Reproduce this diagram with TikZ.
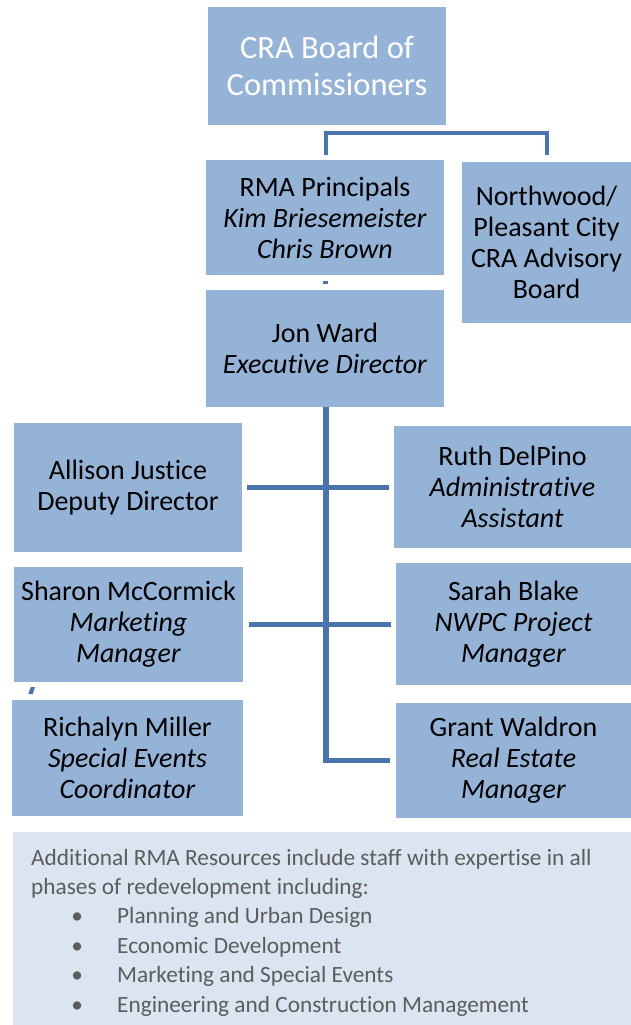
\documentclass[tikz,border=0pt]{standalone}
\usepackage{fontspec}
\setmainfont[Ligatures=NoCommon]{Carlito}
\usetikzlibrary{calc}
\definecolor{boxfill}{HTML}{95B3D7}
\definecolor{linec}{HTML}{4A74AC}
\definecolor{resfill}{HTML}{DBE5F1}
\definecolor{restext}{HTML}{5C5C5C}
\tikzset{
  orgbox/.style={draw=none, fill=boxfill, inner sep=0pt, align=center,
    font=\fontsize{28}{31}\selectfont, text=black},
  topbox/.style={orgbox, text=white, font=\fontsize{32.5}{37}\selectfont},
  conn/.style={draw=linec, line width=5.5pt},
  bracketline/.style={draw=linec, line width=4pt},
  restxt/.style={anchor=base west, inner sep=0pt, text=restext,
    font=\fontsize{23.3}{29.4}\selectfont},
}
\begin{document}
\begin{tikzpicture}[x=1pt,y=-1pt]
\useasboundingbox (0,0) rectangle (631,1025);
\fill[white] (0,0) rectangle (631,1025);

% boxes
\node[topbox, minimum width=238pt, minimum height=117pt] (cra) at (327,66) {CRA Board of\\Commissioners};
\node[orgbox, minimum width=238pt, minimum height=115pt] (rma) at (325,217.5) {RMA Principals\\\textit{Kim Briesemeister}\\\textit{Chris Brown}};
\node[orgbox, minimum width=169pt, minimum height=161pt] (nw) at (546.5,242.5) {Northwood/\\Pleasant City\\CRA Advisory\\Board};
\node[orgbox, minimum width=238pt, minimum height=117pt] (jon) at (325,348.5) {Jon Ward\\\textit{Executive Director}};
\node[orgbox, minimum width=228pt, minimum height=129pt] (allison) at (128,487.5) {Allison Justice\\Deputy Director};
\node[orgbox, minimum width=237pt, minimum height=122pt] (ruth) at (512.5,487) {Ruth DelPino\\\textit{Administrative}\\\textit{Assistant}};
\node[orgbox, minimum width=229pt, minimum height=115pt] (sharon) at (128.5,624.5) {Sharon McCormick\\\textit{Marketing}\\\textit{Manager}};
\node[orgbox, minimum width=235pt, minimum height=122pt] (sarah) at (513.5,624) {Sarah Blake\\\textit{NWPC Project}\\\textit{Manager}};
\node[orgbox, minimum width=231pt, minimum height=116pt] (richalyn) at (127.5,758) {Richalyn Miller\\\textit{Special Events}\\\textit{Coordinator}};
\node[orgbox, minimum width=235pt, minimum height=115pt] (grant) at (513.5,760.5) {Grant Waldron\\\textit{Real Estate}\\\textit{Manager}};

% connectors
\coordinate (bk) at (0,133);
\draw[bracketline] ([xshift=1pt,yshift=5pt]rma.north) -- ([xshift=1pt]rma.north |- bk) -- (nw.north |- bk) -- ([yshift=7pt]nw.north);
\coordinate (dot) at (325,282);
\fill[linec] ([xshift=-2.5pt,yshift=-1.5pt]dot) rectangle ([xshift=2.5pt,yshift=1.5pt]dot);
\draw[conn] ([xshift=1pt]jon.south) -- ([xshift=1pt]jon.south |- grant.west) -- ([xshift=-6pt]grant.west);
\draw[conn] ([xshift=5pt]allison.east) -- ([xshift=-5pt]ruth.west |- allison.east);
\draw[conn] ([xshift=6pt]sharon.east) -- ([xshift=-5pt]sarah.west |- sharon.east);
\coordinate (tick) at (31.5,690.5);
\fill[linec] ($(tick)+(-0.8,-3.3)$) -- ++(4.3,0) -- ++(-2.3,6.8) -- ++(-4.4,0) -- cycle;

% resources panel
\fill[resfill] (13,832) rectangle (631,1025);
\node[restxt] (r1) at (31,865) {Additional RMA Resources include staff with expertise in all};
\node[restxt] (r2) at (31,894.4) {phases of redevelopment including:};
\node[restxt] (r3) at (31,923.8) {\hspace*{46pt}\makebox[0pt]{•}\hspace*{40pt}Planning and Urban Design};
\node[restxt] (r4) at (31,953.2) {\hspace*{46pt}\makebox[0pt]{•}\hspace*{40pt}Economic Development};
\node[restxt] (r5) at (31,982.6) {\hspace*{46pt}\makebox[0pt]{•}\hspace*{40pt}Marketing and Special Events};
\node[restxt] (r6) at (31,1012) {\hspace*{46pt}\makebox[0pt]{•}\hspace*{40pt}Engineering and Construction Management};
\end{tikzpicture}
\end{document}
